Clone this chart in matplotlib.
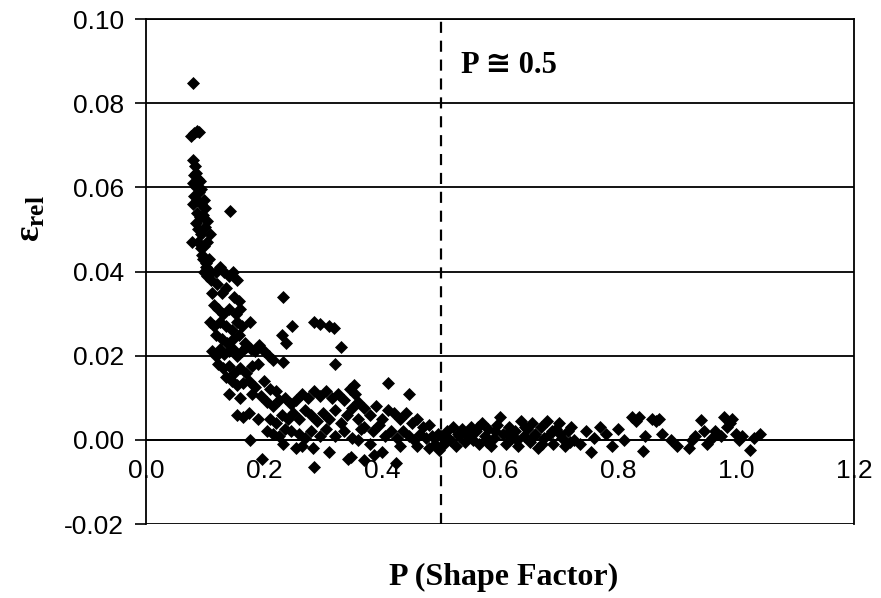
import numpy as np
import matplotlib
matplotlib.use("Agg")
from matplotlib import pyplot as plt

# steep part, P below ~0.2
p_steep = [0.080, 0.077, 0.082, 0.087, 0.090,
           0.080, 0.083, 0.081, 0.085, 0.088, 0.092, 0.079, 0.084, 0.090, 0.094,
           0.082, 0.087, 0.093, 0.098, 0.080, 0.086, 0.091, 0.096, 0.100, 0.084,
           0.089, 0.094, 0.100, 0.104, 0.078, 0.088, 0.093, 0.098, 0.103, 0.108,
           0.096, 0.101, 0.106, 0.099, 0.104, 0.110, 0.143,
           0.095, 0.102, 0.110, 0.118, 0.125, 0.132, 0.140, 0.148, 0.155, 0.120,
           0.128, 0.135, 0.150, 0.158, 0.112, 0.115, 0.122, 0.130, 0.140, 0.152,
           0.160, 0.108, 0.115, 0.125, 0.135, 0.145, 0.155, 0.162, 0.177, 0.118,
           0.128, 0.138, 0.148, 0.158, 0.168]
eps_steep = [0.0848, 0.0722, 0.0728, 0.0735, 0.0732,
             0.0665, 0.0650, 0.0630, 0.0635, 0.0620, 0.0615, 0.0610, 0.0600, 0.0590, 0.0595,
             0.0580, 0.0570, 0.0560, 0.0570, 0.0560, 0.0540, 0.0530, 0.0535, 0.0550, 0.0515,
             0.0500, 0.0490, 0.0505, 0.0520, 0.0470, 0.0470, 0.0455, 0.0460, 0.0470, 0.0490,
             0.0430, 0.0420, 0.0430, 0.0400, 0.0390, 0.0400, 0.0543,
             0.0440, 0.0410, 0.0380, 0.0400, 0.0410, 0.0400, 0.0390, 0.0400, 0.0380, 0.0370,
             0.0350, 0.0360, 0.0340, 0.0330, 0.0350, 0.0320, 0.0310, 0.0300, 0.0310, 0.0300,
             0.0310, 0.0280, 0.0270, 0.0280, 0.0270, 0.0260, 0.0280, 0.0270, 0.0280, 0.0250,
             0.0240, 0.0230, 0.0240, 0.0250, 0.0230]

# knee, P ~0.11 - 0.5
p_knee = [0.112, 0.118, 0.125, 0.132, 0.140, 0.148, 0.155, 0.162, 0.170, 0.178,
          0.185, 0.192, 0.200, 0.208, 0.216, 0.122, 0.130, 0.140, 0.150, 0.160,
          0.170, 0.180, 0.190, 0.135, 0.145, 0.155, 0.165, 0.175, 0.185, 0.200,
          0.140, 0.160, 0.180, 0.195, 0.210, 0.220,
          0.205, 0.215, 0.225, 0.235, 0.245, 0.255, 0.265, 0.275, 0.285, 0.295,
          0.305, 0.315, 0.325, 0.335, 0.345, 0.355,
          0.210, 0.220, 0.230, 0.240, 0.250, 0.260, 0.270, 0.280, 0.290, 0.300,
          0.310, 0.320, 0.330, 0.340, 0.350, 0.360,
          0.205, 0.215, 0.225, 0.235, 0.245, 0.260, 0.270, 0.280, 0.295, 0.305,
          0.320, 0.335, 0.350, 0.365,
          0.155, 0.165, 0.175, 0.190, 0.177, 0.196, 0.233, 0.255, 0.265, 0.283,
          0.284, 0.342, 0.310,
          0.233, 0.248, 0.285, 0.295, 0.310, 0.318, 0.330, 0.321, 0.233, 0.230,
          0.238,
          0.352, 0.410, 0.446, 0.360, 0.370, 0.380, 0.390, 0.400, 0.410, 0.420,
          0.430, 0.440, 0.450, 0.460, 0.470, 0.480, 0.370, 0.385, 0.395, 0.405,
          0.415, 0.425, 0.435, 0.445, 0.455, 0.465, 0.475, 0.485, 0.490, 0.495,
          0.360, 0.380, 0.347, 0.370, 0.386, 0.423, 0.400, 0.430, 0.460, 0.480,
          0.497]
eps_knee = [0.0210, 0.0200, 0.0215, 0.0205, 0.0210, 0.0215, 0.0200, 0.0210, 0.0220, 0.0215,
            0.0210, 0.0225, 0.0210, 0.0200, 0.0190, 0.0180, 0.0170, 0.0175, 0.0160, 0.0170,
            0.0160, 0.0175, 0.0180, 0.0150, 0.0140, 0.0130, 0.0135, 0.0140, 0.0125, 0.0140,
            0.0110, 0.0100, 0.0110, 0.0105, 0.0120, 0.0115,
            0.0090, 0.0080, 0.0095, 0.0100, 0.0085, 0.0095, 0.0110, 0.0100, 0.0115, 0.0105,
            0.0115, 0.0100, 0.0110, 0.0095, 0.0120, 0.0110,
            0.0050, 0.0040, 0.0060, 0.0050, 0.0065, 0.0050, 0.0070, 0.0060, 0.0045, 0.0065,
            0.0050, 0.0070, 0.0040, 0.0060, 0.0075, 0.0050,
            0.0020, 0.0015, 0.0010, 0.0025, 0.0020, 0.0015, 0.0005, 0.0020, 0.0010, 0.0025,
            0.0010, 0.0020, 0.0005, 0.0025,
            0.0060, 0.0055, 0.0065, 0.0050, 0.0000, -0.0045, -0.0010, -0.0020, -0.0015, -0.0020,
            -0.0064, -0.0045, -0.0030,
            0.0340, 0.0270, 0.0280, 0.0275, 0.0270, 0.0265, 0.0220, 0.0180, 0.0185, 0.0250,
            0.0230,
            0.0130, 0.0135, 0.0110, 0.0090, 0.0075, 0.0060, 0.0080, 0.0050, 0.0070, 0.0065,
            0.0050, 0.0065, 0.0040, 0.0050, 0.0030, 0.0035, 0.0030, 0.0020, 0.0035, 0.0010,
            0.0020, 0.0005, 0.0020, 0.0010, 0.0000, 0.0015, 0.0005, 0.0010, -0.0010, 0.0015,
            0.0000, -0.0010, -0.0040, -0.0047, -0.0036, -0.0054, -0.0030, -0.0015, -0.0015, -0.0020,
            -0.0025]

# flat part, P above 0.5
p_flat = [0.500, 0.505, 0.510, 0.515, 0.520, 0.525, 0.530, 0.535, 0.540, 0.545,
          0.550, 0.555, 0.560, 0.565, 0.570, 0.575, 0.580, 0.585, 0.590, 0.595,
          0.600, 0.605, 0.610, 0.615, 0.620, 0.625, 0.630, 0.635, 0.640, 0.645,
          0.650, 0.655, 0.660, 0.665, 0.670, 0.675, 0.680, 0.685, 0.690, 0.695,
          0.700, 0.705, 0.710, 0.715, 0.720, 0.725, 0.735, 0.745, 0.755, 0.760,
          0.770, 0.780, 0.790, 0.800, 0.810, 0.823, 0.830, 0.835, 0.843, 0.845,
          0.857, 0.865, 0.870, 0.875, 0.890, 0.900, 0.920, 0.925, 0.930, 0.940,
          0.945, 0.950, 0.960, 0.965, 0.975, 0.980, 0.985, 0.990, 0.993, 1.000,
          1.005, 1.010, 1.024, 1.030, 1.040,
          0.512, 0.528, 0.548, 0.562, 0.578, 0.592, 0.612, 0.628, 0.642, 0.658,
          0.672, 0.688, 0.702, 0.718]
eps_flat = [0.0010, -0.0010, 0.0020, 0.0000, 0.0030, -0.0015, 0.0010, 0.0025, -0.0005, 0.0015,
            0.0030, 0.0000, 0.0020, -0.0010, 0.0040, 0.0010, 0.0025, -0.0015, 0.0005, 0.0035,
            0.0055, 0.0015, -0.0010, 0.0030, 0.0005, 0.0020, -0.0015, 0.0045, 0.0010, 0.0025,
            -0.0005, 0.0040, 0.0015, -0.0020, 0.0030, 0.0005, 0.0045, 0.0015, -0.0010, 0.0025,
            0.0040, 0.0005, -0.0015, 0.0020, 0.0030, 0.0000, -0.0010, 0.0020, -0.0030, 0.0005,
            0.0030, 0.0015, -0.0015, 0.0025, 0.0000, 0.0055, 0.0045, 0.0055, -0.0026, 0.0010,
            0.0050, 0.0045, 0.0050, 0.0015, 0.0000, -0.0015, -0.0020, 0.0000, 0.0010, 0.0047,
            0.0020, -0.0010, 0.0005, 0.0020, 0.0010, 0.0055, 0.0030, 0.0040, 0.0050, 0.0015,
            0.0000, 0.0010, -0.0024, 0.0005, 0.0014,
            0.0005, 0.0015, 0.0010, 0.0030, -0.0005, 0.0020, 0.0015, 0.0000, 0.0030, 0.0010,
            -0.0010, 0.0020, 0.0015, -0.0005]

p_limit = 0.5

plt.rcParams['mathtext.fontset'] = 'custom'
plt.rcParams['mathtext.bf'] = 'Liberation Serif:bold'
plt.rcParams['mathtext.rm'] = 'Liberation Serif:bold'
plt.rcParams['mathtext.it'] = 'Liberation Serif:bold'
plt.rcParams['mathtext.default'] = 'bf'

fig = plt.figure(figsize=(8.81, 5.98), dpi=100)
ax = fig.add_axes([0.1657, 0.1237, 0.8037, 0.8445])

p_all = np.concatenate([p_steep, p_knee, p_flat])
eps_all = np.concatenate([eps_steep, eps_knee, eps_flat])
ax.scatter(p_all, eps_all, marker='D', s=44, color='black', linewidths=0, zorder=3)

ax.set_xlim(0, 1.2)
ax.set_ylim(-0.02, 0.10)

# horizontal grid
for yv in np.arange(-0.02, 0.101, 0.02):
    ax.axhline(yv, color='black', lw=1.3, zorder=1)

ax.axvline(p_limit, color='black', lw=1.6, linestyle=(0, (5, 3.5)), zorder=2)

ax.set_yticks(np.arange(-0.02, 0.101, 0.02))
ax.set_yticklabels([f'{v:.2f}' for v in np.arange(-0.02, 0.101, 0.02)],
                   family='Liberation Sans', fontsize=19)
ax.tick_params(axis='y', direction='out', length=8, width=1.2, pad=8)

# x tick labels sit on the zero line
ax.spines['bottom'].set_position(('data', 0))
ax.spines['bottom'].set_linewidth(1.3)
ax.set_xticks(np.arange(0, 1.21, 0.2))
ax.set_xticklabels([f'{v:.1f}' for v in np.arange(0, 1.21, 0.2)],
                   family='Liberation Sans', fontsize=19)
ax.tick_params(axis='x', length=0, pad=14)
for s in ['left', 'right', 'top']:
    ax.spines[s].set_linewidth(1.3)

ax.text(0.534, 0.0889, 'P \u2245 0.5', fontsize=22, fontweight='bold',
        family=['Liberation Serif', 'DejaVu Serif', 'DejaVu Sans'], va='center', ha='left')

ax.text(-0.164, 0.604, r'$\varepsilon_{rel}$', transform=ax.transAxes,
        rotation=90, fontsize=26, ha='center', va='center')
fig.text(0.572, 0.035, 'P (Shape Factor)', fontsize=23, fontweight='bold',
         family='Liberation Serif', ha='center', va='center')

fig.savefig('out.png', dpi=100)
